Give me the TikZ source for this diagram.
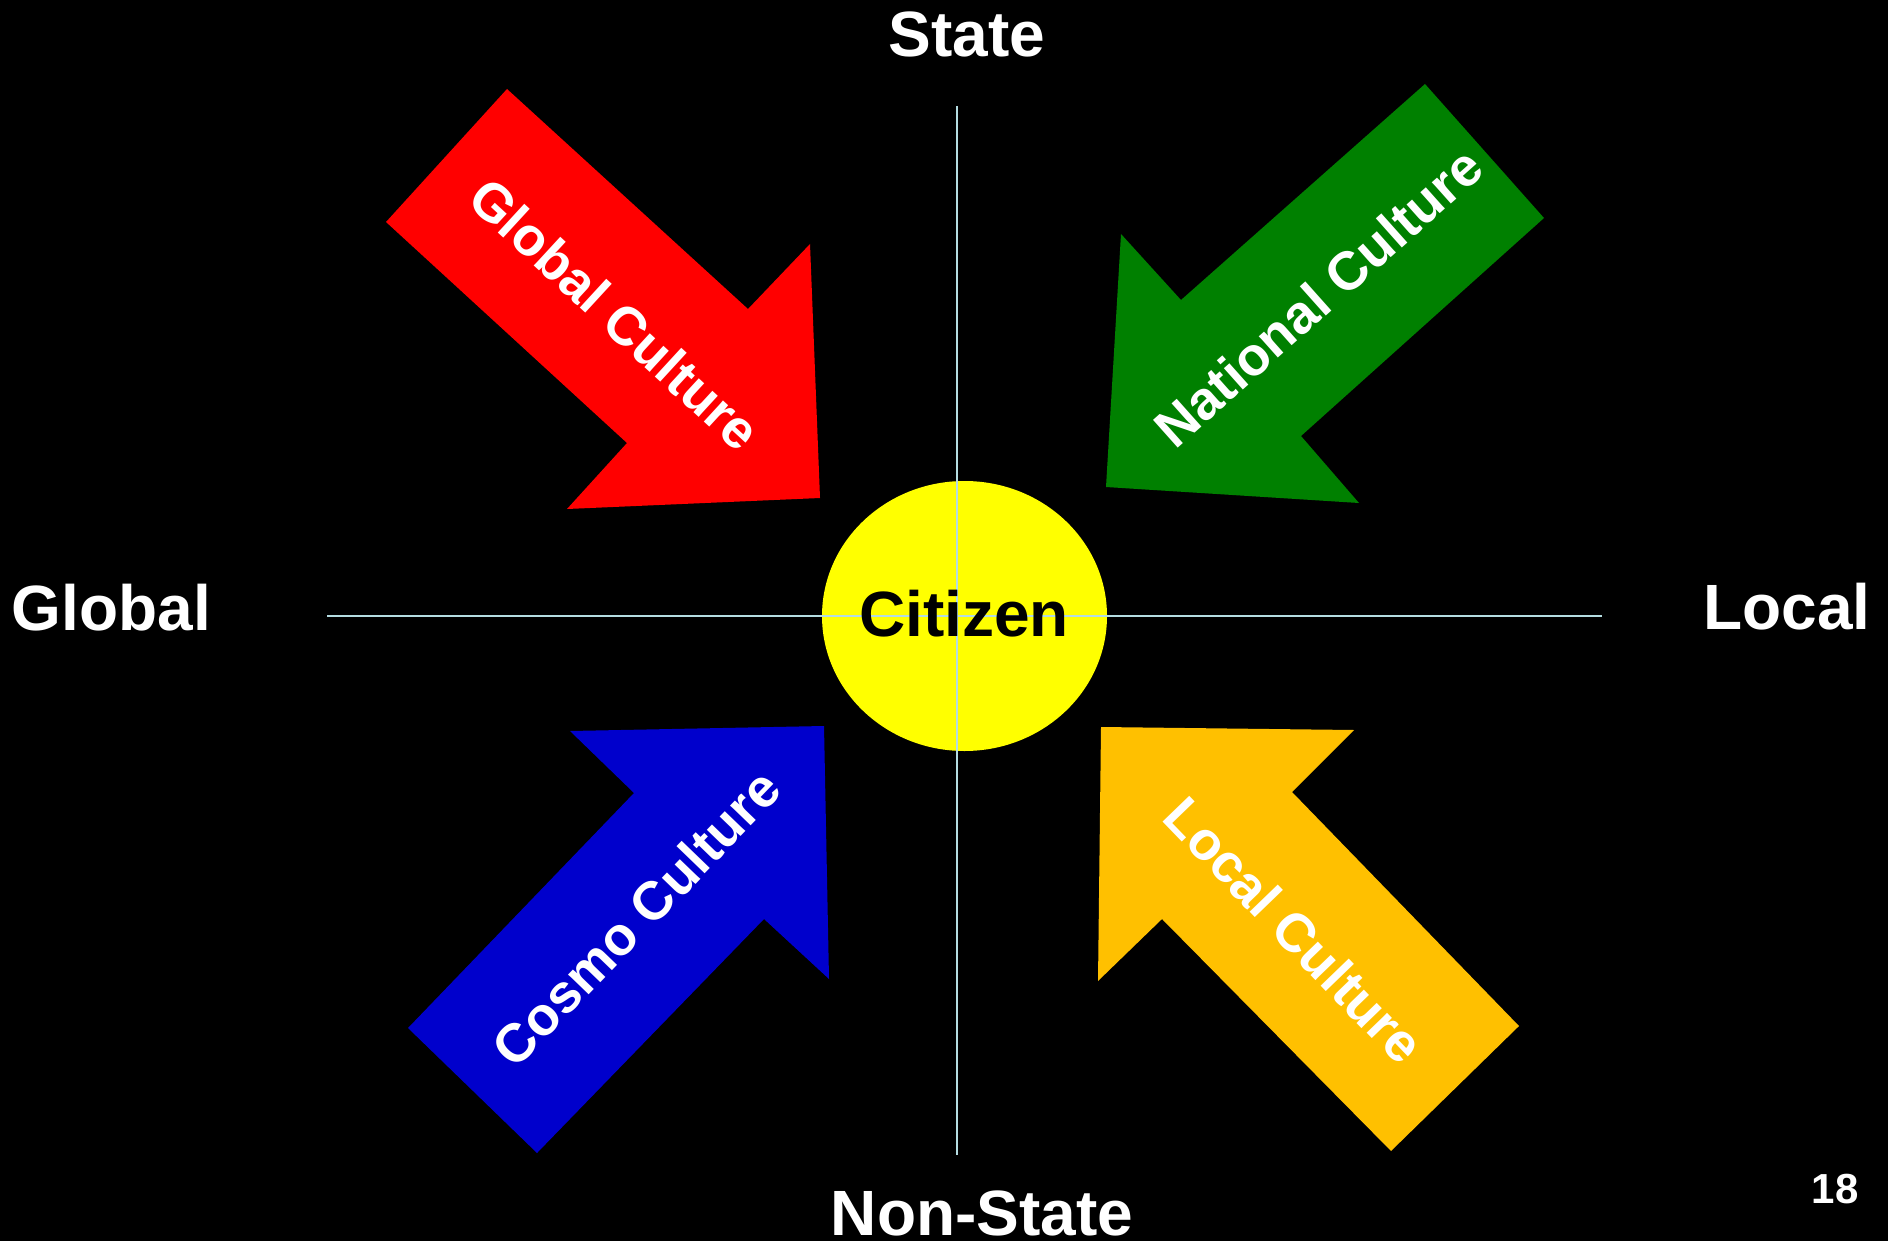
\documentclass[tikz,border=0pt]{standalone}
\usepackage{fontspec}
\setmainfont{Liberation Sans}
\usetikzlibrary{shapes.geometric}
\definecolor{axiscol}{RGB}{180,220,225}
\definecolor{redA}{RGB}{255,0,0}
\definecolor{greenA}{RGB}{0,128,0}
\definecolor{blueA}{RGB}{0,0,204}
\definecolor{orangeA}{RGB}{255,192,0}
\definecolor{yellowA}{RGB}{255,255,0}
\tikzset{
  axisline/.style={draw=axiscol, line width=1pt},
  poslabel/.style={text=white, font=\fontsize{32}{36}\selectfont\bfseries, inner sep=0pt, anchor=base},
  arrowlabel/.style={text=white, font=\fontsize{27}{30}\selectfont\bfseries, inner sep=0pt, anchor=center},
}
\begin{document}
\begin{tikzpicture}[x=0.5pt,y=-0.5pt]
\fill[black] (0,0) rectangle (1888,1241);
\useasboundingbox (0,0) rectangle (1888,1241);

% arrows
\fill[redA] (507,89) -- (748,309) -- (810,244) -- (820,498) -- (567,509) -- (627,443) -- (386,222) -- cycle;
\fill[greenA] (1425,84) -- (1544,218) -- (1301,436) -- (1359,503) -- (1106,487) -- (1121,234) -- (1181,300) -- cycle;
\fill[blueA] (570,731) -- (824,726) -- (829,979) -- (764,919) -- (537,1153) -- (408,1028) -- (634,793) -- cycle;
\fill[orangeA] (1101,727) -- (1354,730) -- (1292,792) -- (1519,1026) -- (1391,1151) -- (1162,919) -- (1098,981) -- cycle;

% citizen ellipse
\node[fill=yellowA, ellipse, minimum width=142.5pt, minimum height=135pt, inner sep=0pt] (citizen) at (964.5,616) {};

% axes
\coordinate (top) at (957,106);
\coordinate (bottom) at (957,1155);
\coordinate (left) at (327,615.5);
\coordinate (right) at (1602,615.5);
\draw[axisline] (top) -- (bottom);
\draw[axisline] (left) -- (right);

\node[poslabel, text=black] (citizenlabel) at (964,636) {Citizen};

% position labels
\node[poslabel] (state) at (967,57) {State};
\node[poslabel] (nonstate) at (982,1235) {Non-State};
\node[poslabel] (global) at (111.5,630) {Global};
\node[poslabel] (local) at (1787,629) {Local};
\node[poslabel, font=\fontsize{21}{24}\selectfont\bfseries] (pagenum) at (1835,1203) {18};

% arrow labels
\node[arrowlabel, rotate=-42.6] (globalc) at (615,314) {Global Culture};
\node[arrowlabel, rotate=41.7] (nationalc) at (1318,297) {National Culture};
\node[arrowlabel, rotate=46] (cosmoc) at (636,918) {Cosmo Culture};
\node[arrowlabel, rotate=-46] (localc) at (1294,930) {Local Culture};
\end{tikzpicture}
\end{document}
